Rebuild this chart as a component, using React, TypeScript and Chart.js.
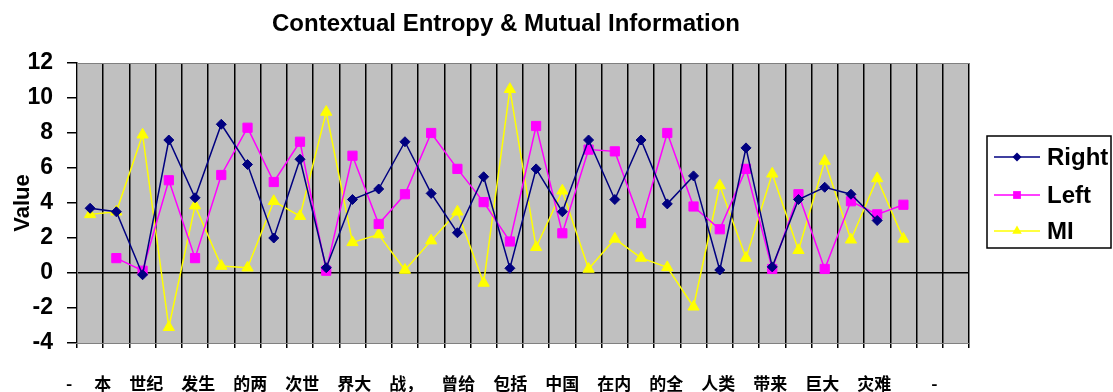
import React, { useEffect, useRef } from 'react';
import { Chart, registerables } from 'chart.js';

Chart.register(...registerables);

// Positions between characters of the sentence (one slot per boundary)
const categories = [
  '1', '2', '3', '4', '5', '6', '7', '8', '9', '10', '11', '12',
  '13', '14', '15', '16', '17', '18', '19', '20', '21', '22', '23', '24',
  '25', '26', '27', '28', '29', '30', '31', '32', '33', '34',
];

const rightValues = [
  3.7, 3.5, -0.1, 7.6, 4.3, 8.5, 6.2, 2.0, 6.5, 0.3, 4.2, 4.8,
  7.5, 4.55, 2.3, 5.5, 0.27, 5.95, 3.5, 7.6, 4.2, 7.6, 3.95, 5.55,
  0.17, 7.15, 0.35, 4.2, 4.9, 4.5, 3.0, null, null, null,
];

const leftValues = [
  null, 0.85, 0.13, 5.3, 0.85, 5.6, 8.3, 5.2, 7.5, 0.13, 6.7, 2.8,
  4.5, 8.0, 5.95, 4.05, 1.8, 8.4, 2.27, 7.05, 6.95, 2.85, 8.0, 3.8,
  2.5, 5.95, 0.23, 4.5, 0.23, 4.1, 3.35, 3.9, null, null,
];

const miValues = [
  3.35, 3.5, 7.9, -3.1, 3.85, 0.4, 0.3, 4.1, 3.25, 9.2, 1.75, 2.2,
  0.17, 1.85, 3.5, -0.57, 10.5, 1.47, 4.7, 0.23, 1.95, 0.86, 0.32, -1.93,
  5.0, 0.86, 5.67, 1.3, 6.4, 1.9, 5.4, 1.95, null, null,
];

const seriesNames = ['Right', 'Left', 'MI'];
const yTicks = [-4, -2, 0, 2, 4, 6, 8, 10, 12];

const chartTitle = 'Contextual Entropy & Mutual Information';
const yTitle = 'Value';

// Segmented sentence shown under the chart
const sentenceWords = [
  '本', '世纪', '发生', '的两', '次世', '界大', '战，', '曾给',
  '包括', '中国', '在内', '的全', '人类', '带来', '巨大', '灾难',
];

const LATIN = '"Liberation Sans", Arial, sans-serif';
const CJK = '"Noto Sans CJK SC", "Noto Sans", sans-serif';

function drawMarker(ctx: CanvasRenderingContext2D, style: string, x: number, y: number, r: number) {
  ctx.beginPath();
  if (style === 'rect') {
    const s = r * Math.SQRT1_2;
    ctx.rect(x - s, y - s, 2 * s, 2 * s);
  } else if (style === 'rectRot') {
    ctx.moveTo(x, y - r);
    ctx.lineTo(x + r, y);
    ctx.lineTo(x, y + r);
    ctx.lineTo(x - r, y);
    ctx.closePath();
  } else {
    const h = (2 * Math.PI) / 3;
    ctx.moveTo(x, y - r);
    ctx.lineTo(x + Math.sin(h) * r, y - Math.cos(h) * r);
    ctx.lineTo(x + Math.sin(2 * h) * r, y - Math.cos(2 * h) * r);
    ctx.closePath();
  }
}

// Grey plot area, its frame, the title and the boxed legend
const framePlugin = {
  id: 'excelFrame',
  beforeDraw(chart: any) {
    const { ctx, chartArea: a } = chart;
    ctx.save();
    ctx.fillStyle = '#c0c0c0';
    ctx.fillRect(a.left, a.top, a.right - a.left, a.bottom - a.top);
    ctx.restore();
  },
  beforeDatasetsDraw(chart: any) {
    const { ctx, chartArea: a } = chart;
    ctx.save();
    ctx.strokeStyle = '#808080';
    ctx.lineWidth = 1;
    ctx.strokeRect(a.left + 0.5, a.top + 0.5, a.right - a.left, a.bottom - a.top);
    ctx.restore();
  },
  afterDraw(chart: any) {
    const { ctx } = chart;
    ctx.save();
    ctx.fillStyle = '#000';
    ctx.font = `bold 24px ${LATIN}`;
    ctx.textAlign = 'center';
    ctx.textBaseline = 'middle';
    ctx.fillText(chartTitle, 506, 24);

    const bx = 987, by = 136, bw = 124, bh = 112;
    ctx.fillStyle = '#fff';
    ctx.fillRect(bx, by, bw, bh);
    ctx.strokeStyle = '#000';
    ctx.lineWidth = 1.5;
    ctx.strokeRect(bx, by, bw, bh);

    const rows = [157, 195, 231];
    chart.data.datasets.forEach((ds: any, i: number) => {
      const y = rows[i];
      ctx.strokeStyle = ds.borderColor;
      ctx.lineWidth = 1.5;
      ctx.beginPath();
      ctx.moveTo(994, y);
      ctx.lineTo(1040, y);
      ctx.stroke();
      ctx.fillStyle = ds.backgroundColor;
      const r = ds.pointStyle === 'rect' ? 5.5 : ds.pointStyle === 'triangle' ? 5.5 : 4.5;
      drawMarker(ctx, ds.pointStyle, 1017, y, r);
      ctx.fill();
      ctx.fillStyle = '#000';
      ctx.font = `bold 24px ${LATIN}`;
      ctx.textAlign = 'left';
      ctx.textBaseline = 'middle';
      ctx.fillText(ds.label, 1047, y + 1);
    });
    ctx.restore();
  },
};

export default function App() {
  const canvasRef = useRef<HTMLCanvasElement | null>(null);

  useEffect(() => {
    if (!canvasRef.current) return;
    const tickFont = { family: LATIN, size: 23, weight: 'bold' as const };
    const titleFont = { family: LATIN, size: 22, weight: 'bold' as const };
    const chart = new Chart(canvasRef.current, {
      type: 'line',
      data: {
        labels: categories,
        datasets: [
          {
            label: seriesNames[0],
            data: rightValues,
            borderColor: '#000080',
            backgroundColor: '#000080',
            borderWidth: 1.5,
            pointStyle: 'rectRot',
            pointRadius: 5,
            pointBorderWidth: 1,
            tension: 0,
          },
          {
            label: seriesNames[1],
            data: leftValues,
            borderColor: '#ff00ff',
            backgroundColor: '#ff00ff',
            borderWidth: 1.5,
            pointStyle: 'rect',
            pointRadius: 6.5,
            pointBorderWidth: 1,
            tension: 0,
          },
          {
            label: seriesNames[2],
            data: miValues,
            borderColor: '#ffff00',
            backgroundColor: '#ffff00',
            borderWidth: 1.5,
            pointStyle: 'triangle',
            pointRadius: 6.5,
            pointBorderWidth: 1,
            tension: 0,
          },
        ],
      },
      options: {
        responsive: false,
        animation: false,
        devicePixelRatio: 1,
        layout: { padding: { left: 10, top: 63, right: 144, bottom: 43 } },
        plugins: {
          legend: { display: false },
          title: { display: false },
          tooltip: { enabled: false },
        },
        scales: {
          x: {
            type: 'category',
            offset: true,
            grid: {
              offset: true,
              color: '#000',
              lineWidth: 1.5,
              drawTicks: true,
              tickLength: 5,
              tickColor: '#000',
            },
            ticks: { display: false },
            border: { display: true, color: '#808080', width: 1 },
            afterFit: (s: any) => {
              s.height = 6;
            },
          },
          y: {
            min: -4,
            max: 12,
            afterBuildTicks: (s: any) => {
              s.ticks = yTicks.map((v) => ({ value: v }));
            },
            ticks: { color: '#000', font: tickFont, padding: 14 },
            grid: {
              color: (c: any) => (c.tick && c.tick.value === 0 ? '#000' : 'rgba(0,0,0,0)'),
              lineWidth: 1.5,
              drawTicks: true,
              tickLength: 10,
              tickColor: '#000',
            },
            border: { display: true, color: '#000', width: 1.5 },
            title: {
              display: true,
              text: yTitle,
              color: '#000',
              font: titleFont,
              padding: 0,
            },
            afterFit: (s: any) => {
              s.width = 67;
            },
          },
        },
      },
      plugins: [framePlugin],
    } as any);
    return () => chart.destroy();
  }, []);

  return (
    <div
      style={{
        position: 'fixed',
        left: 0,
        top: 0,
        width: 1113,
        height: 392,
        background: '#fff',
        overflow: 'hidden',
      }}
    >
      <canvas ref={canvasRef} width={1113} height={392} style={{ display: 'block' }} />
      <div
        style={{
          position: 'absolute',
          left: 66,
          top: 372,
          display: 'flex',
          gap: 18,
          fontFamily: CJK,
          fontWeight: 700,
          fontSize: 17,
          lineHeight: '22px',
          color: '#000',
          whiteSpace: 'nowrap',
        }}
      >
        <span style={{ marginRight: 4 }}>-</span>
        {sentenceWords.map((w, i) => (
          <span key={i}>{w}</span>
        ))}
        <span style={{ marginLeft: 22 }}>-</span>
      </div>
    </div>
  );
}
